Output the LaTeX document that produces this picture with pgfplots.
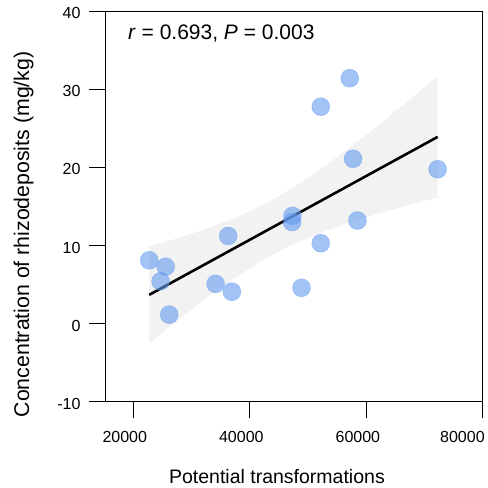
\documentclass[border=0pt]{standalone}
\usepackage{pgfplots}
\pgfplotsset{compat=1.18}
\usepackage{fontspec}
\setmainfont{Liberation Sans}
\definecolor{dotblue}{RGB}{100,155,240}
\definecolor{bandgray}{RGB}{242,242,242}
\begin{document}
\begin{tikzpicture}
\path (-105bp,-86bp) rectangle (383bp,402bp);
\begin{axis}[
  at={(0,0)}, anchor=south west,
  scale only axis,
  width=378bp, height=391bp,
  xmin=15150, xmax=80000,
  ymin=-10, ymax=40,
  xtick={20000,40000,60000,80000},
  xticklabels={20000,40000,60000,{\hspace*{-24bp}80000}},
  ytick={-10,0,10,20,30,40},
  scaled x ticks=false,
  tick pos=left,
  tick align=outside,
  major tick length=16bp,
  tick style={black, line width=0.9pt},
  axis line style={line width=0.9pt},
  /pgf/number format/assume math mode=true,
  /pgf/number format/set thousands separator={},
  ticklabel style={font=\fontsize{16bp}{18bp}\selectfont},
  xticklabel style={xshift=-8.5bp, yshift=-10bp},
  yticklabel style={xshift=-5bp, yshift=-2bp},
  xlabel={Potential transformations},
  ylabel={Concentration of rhizodeposits (mg/kg)},
  xlabel style={font=\fontsize{19.5bp}{22bp}\selectfont, yshift=-20bp, xshift=-17bp},
  ylabel style={font=\fontsize{21.3bp}{23bp}\selectfont, yshift=17bp, xshift=-28bp},
  clip=false,
]
\addplot[fill=bandgray, draw=none] coordinates {
(22743,9.88) (27000,10.80) (32000,11.99) (37000,13.38) (42000,15.08) (47000,17.18)
(52000,19.67) (57000,22.43) (62000,25.36) (67000,28.40) (72237,31.65)
(72237,16.15) (67000,15.12) (62000,14.08) (57000,12.93) (52000,11.61) (47000,10.02)
(42000,8.04) (37000,5.66) (32000,2.97) (27000,0.08) (22743,-2.48)
} -- cycle;
\addplot[only marks, mark=*, mark size=9bp, color=dotblue, opacity=0.6] coordinates {
(22743,8.12) (25554,7.30) (24697,5.43) (26172,1.16) (36287,11.23) (34126,5.10)
(36921,4.10) (47327,13.80) (47258,13.00) (48870,4.60) (52178,10.30) (52178,27.76)
(57150,31.40) (57716,21.10) (58470,13.20) (72237,19.76)
};
\addplot[black, line width=2.6pt, no marks] coordinates {(22743,3.70) (72237,23.90)};
\node[anchor=base west, font=\fontsize{21bp}{23bp}\selectfont, inner sep=0pt] at (axis cs:19090,36.3) {\textit{r} = 0.693, \textit{P} = 0.003};
\end{axis}
\end{tikzpicture}
\end{document}
